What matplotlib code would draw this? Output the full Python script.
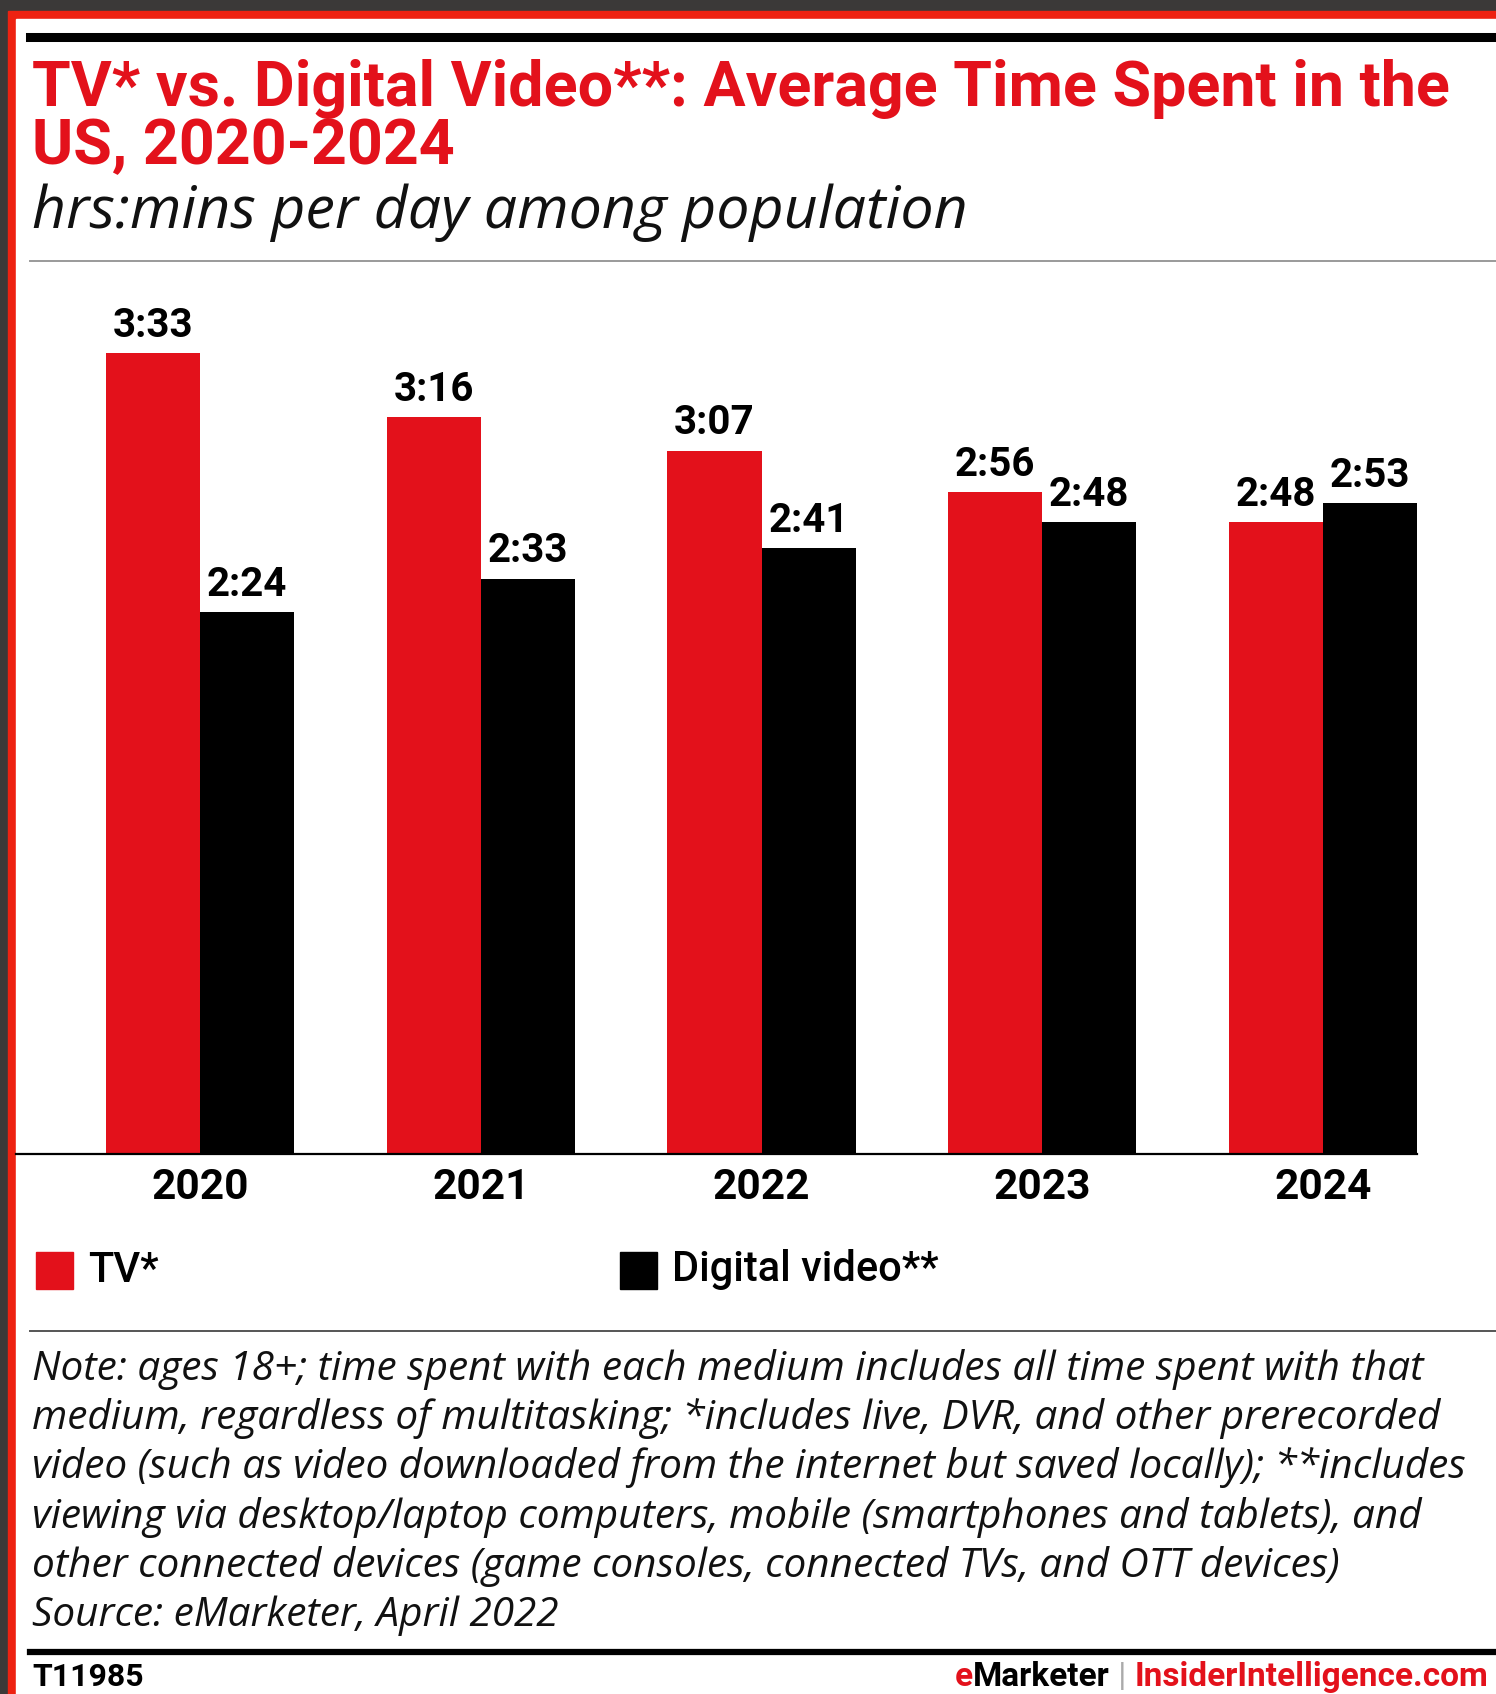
import matplotlib
matplotlib.use("Agg")
import matplotlib.pyplot as plt
from matplotlib.patches import Rectangle
from matplotlib.lines import Line2D
from matplotlib.text import Annotation

W, H = 1496, 1694
RED = "#E3111B"

years = ["2020", "2021", "2022", "2023", "2024"]
tv_mins = [213, 196, 187, 176, 168]          # 3:33 3:16 3:07 2:56 2:48
digital_mins = [144, 153, 161, 168, 173]     # 2:24 2:33 2:41 2:48 2:53
series_names = ["TV*", "Digital video**"]

title_lines = ["TV* vs. Digital Video**: Average Time Spent in the", "US, 2020-2024"]
subtitle = "hrs:mins per day among population"
note_lines = [
    "Note: ages 18+; time spent with each medium includes all time spent with that",
    "medium, regardless of multitasking; *includes live, DVR, and other prerecorded",
    "video (such as video downloaded from the internet but saved locally); **includes",
    "viewing via desktop/laptop computers, mobile (smartphones and tablets), and",
    "other connected devices (game consoles, connected TVs, and OTT devices)",
    "Source: eMarketer, April 2022",
]
footer_id = "T11985"
footer_brand = [("e", "red"), ("Marketer", "black"), (" | ", "grey"), ("InsiderIntelligence.com", "red")]


def fx(px):
    return px / W


def fy(py):
    return 1 - py / H


def hm(m):
    return "%d:%02d" % (m // 60, m % 60)


fig = plt.figure(figsize=(W / 100, H / 100), dpi=100, facecolor="#3b3938")

# red frame + white card (behind everything)
fig.patches.append(Rectangle((fx(8), 0), 1, fy(11), transform=fig.transFigure, color="#EE2211", zorder=-3))
fig.patches.append(Rectangle((fx(16), 0), 1, fy(19), transform=fig.transFigure, color="white", zorder=-2))

def hline(y, x0, lw, color):
    fig.add_artist(Line2D([fx(x0), 1], [fy(y), fy(y)], transform=fig.transFigure, lw=lw, color=color))

hline(37.5, 30, 6.5, "black")
hline(261, 30, 1.4, "#9a9a9a")
hline(1331, 30, 1.4, "#555555")
hline(1652, 30, 4.5, "black")

# title
for y, line in zip([106, 164], title_lines):
    fig.text(fx(32), fy(y), line, fontsize=45.2, fontweight="bold", color=RED,
             family="Roboto", va="baseline")
fig.text(fx(32), fy(228), subtitle, fontsize=42.6, fontstyle="italic",
         family="Open Sans", color="#111111", va="baseline")

# bars
spacing = 280.3
ax = fig.add_axes([fx(16), fy(1154), fx(1417) - fx(16), (1154 - 280) / H])
ax.patch.set_alpha(0)
w = 94 / spacing
x = list(range(len(years)))
b1 = ax.bar([i - w / 2 for i in x], tv_mins, width=w, color=RED)
b2 = ax.bar([i + w / 2 for i in x], digital_mins, width=w, color="black")
ax.set_xlim(-184 / spacing, 4 + w)
ax.set_ylim(0, (1154 - 280) / 3.761)
for s in ["top", "right", "left"]:
    ax.spines[s].set_visible(False)
ax.spines["bottom"].set_linewidth(1.6)
ax.set_yticks([])
ax.set_xticks(x)
ax.set_xticklabels(years, fontsize=30.5, fontweight="bold", family="Roboto")
ax.tick_params(axis="x", length=0, pad=9)
for bars, vals in [(b1, tv_mins), (b2, digital_mins)]:
    for r, v in zip(bars, vals):
        ax.annotate(hm(v), (r.get_x() + r.get_width() / 2, v), xytext=(0, 6),
                    textcoords="offset points", ha="center", va="bottom",
                    fontsize=29, fontweight="bold", family="Roboto")

# legend
for (lx, col), name in zip([(36, RED), (620, "black")], series_names):
    fig.patches.append(Rectangle((fx(lx), fy(1289)), fx(37), 37 / H, transform=fig.transFigure, color=col))
    fig.text(fx(lx + 52), fy(1270), name, fontsize=30, fontweight="medium", family="Roboto",
             va="center")

# notes
for k, line in enumerate(note_lines):
    fig.text(fx(32), fy(1380 + k * 49.2), line, fontsize=29.2, fontstyle="italic",
             family="Open Sans", color="#111111", va="baseline")

# footer
base = fy(1686)
fig.text(fx(32), base, footer_id, fontsize=23, fontweight="bold", family="Roboto", va="baseline")
cmap = {"red": RED, "black": "black", "grey": "#aaaaaa"}
prev = None
for s, c in footer_brand:
    wt = "normal" if c == "grey" else "bold"
    if prev is None:
        prev = fig.text(fx(955), base, s, fontsize=24, fontweight=wt, family="Roboto",
                        va="baseline", color=cmap[c])
        continue
    a = Annotation(s, xy=(1, base), xycoords=(prev, "figure fraction"), va="baseline", ha="left",
                   fontsize=24, fontweight=wt, family="Roboto", color=cmap[c])
    fig.add_artist(a)
    prev = a

fig.savefig("out.png", dpi=100, facecolor=fig.get_facecolor())
